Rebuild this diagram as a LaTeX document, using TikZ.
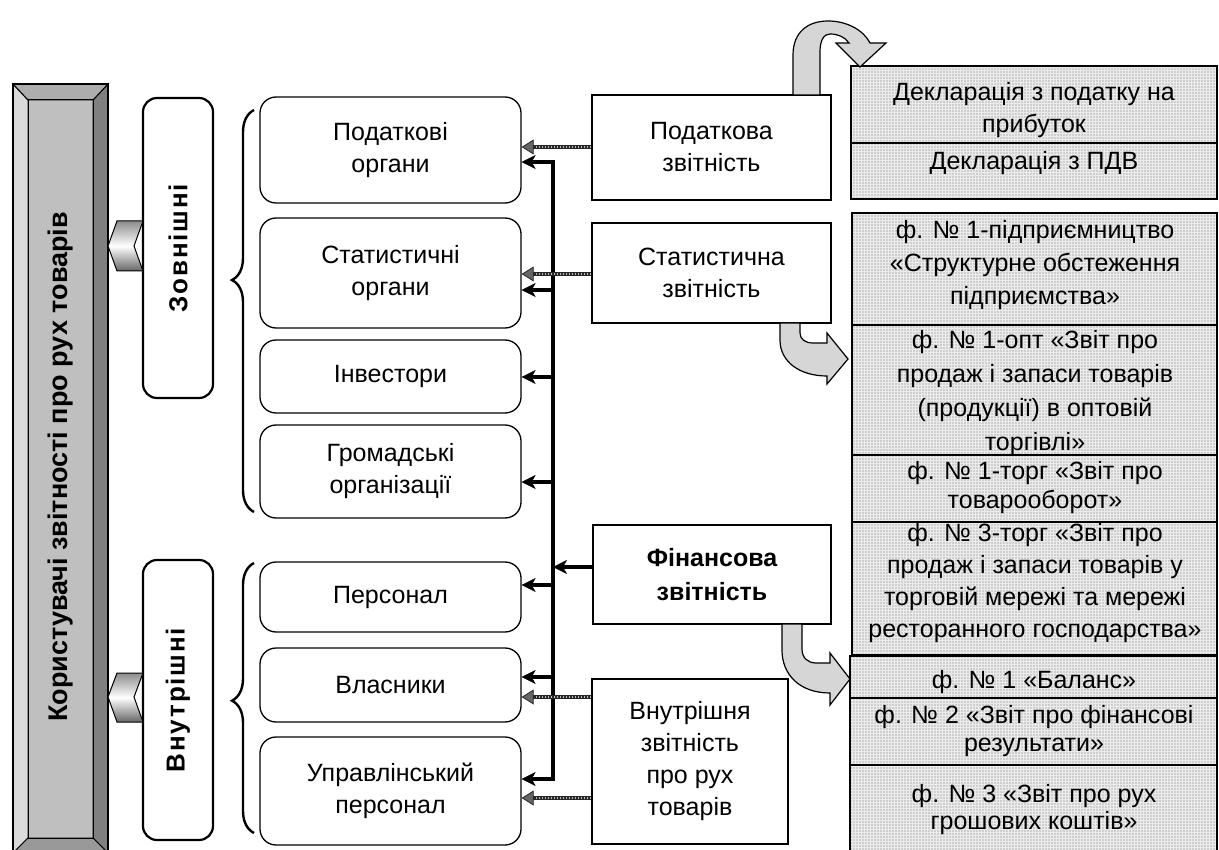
\documentclass[tikz,border=0pt]{standalone}
\usepackage{fontspec}
\setmainfont{Liberation Sans}
\usetikzlibrary{arrows.meta,patterns,decorations.pathreplacing,calc}
\begin{document}
\begin{tikzpicture}[x=1pt,y=-1pt,
  txt/.style={font=\fontsize{25}{32}\selectfont, align=center, inner sep=0pt},
  ubox/.style={draw, line width=1.3pt, rounded corners=16pt, minimum width=261pt, txt},
  rbox/.style={draw, line width=1.3pt, txt},
  catbox/.style={draw, line width=2.2pt, rounded corners=14pt, rotate=90, minimum height=70pt,
     font=\fontsize{26}{30}\selectfont\bfseries\addfontfeature{LetterSpace=7}},
  chev/.style={draw, line width=1pt, top color=black!45, bottom color=black!60, middle color=white},
  bracestyle/.style={draw, line width=2.4pt, decorate},
  busline/.style={line width=3.6pt},
  busarrow/.style={line width=3.6pt, -{Stealth[length=14pt,width=14pt,inset=4pt,line width=0.5pt]}},
  hatchbase/.style={draw=black!85, line width=3.8pt, -{Triangle[length=12pt,width=15pt,fill=black!60,line width=0.8pt]}},
  hatchtop/.style={draw=black!25, line width=1.4pt, dash pattern=on 1.5pt off 1.5pt, shorten >=13pt},
  gridfill/.style={preaction={fill=black!19}, pattern=grid, pattern color=black!8},
  grpline/.style={line width=1.3pt},
  uturn/.style={draw, line width=1.2pt, fill=black!16, line join=miter}
]
\useasboundingbox (0,0) rectangle (1219,850);
\clip (0,0) rectangle (1219,850);

% ---------- left bar ----------
\fill[black!25] (13,84) rectangle (108,870);
\filldraw[fill=black!14, line width=1pt] (13,84) -- (28,100) -- (28,838) -- (13,853) -- cycle;
\filldraw[fill=black!50, line width=1pt] (108,84) -- (93,100) -- (93,838) -- (108,853) -- cycle;
\filldraw[fill=black!32, line width=1pt] (13,84) -- (108,84) -- (93,100) -- (28,100) -- cycle;
\filldraw[fill=black!40, line width=1pt] (28,838) -- (93,838) -- (108,853) -- (13,853) -- cycle;
\draw[line width=1.3pt] (13,84) rectangle (108,870);
\draw[line width=1pt] (28,100) rectangle (93,838);
\node[rotate=90, font=\fontsize{27}{30}\selectfont\bfseries] (users) at (61,467) {Користувачі звітності про рух товарів};

% ---------- category boxes ----------
\node[catbox, minimum width=300pt] (ext) at (178,248) {Зовнішні};
\node[catbox, minimum width=280pt] (int) at (178,700) {Внутрішні};
\path[chev] (143,221) -- (117,221) -- (108,246) -- (117,271) -- (143,271) -- (134,246) -- cycle;
\path[chev] (143,673) -- (117,673) -- (108,697) -- (117,722) -- (143,722) -- (134,697) -- cycle;

% ---------- braces ----------
\draw[bracestyle, decoration={brace, amplitude=22pt, aspect=0.577}] (254,512) -- (254,110);
\draw[bracestyle, decoration={brace, amplitude=22pt, aspect=0.49}] (254,833) -- (254,563);

% ---------- user boxes ----------
\node[ubox, minimum height=106pt] (tax)  at (390.5,150) {Податкові\\органи};
\node[ubox, minimum height=110pt] (stat) at (390.5,273) {Статистичні\\органи};
\node[ubox, minimum height=73pt]  (inv)  at (390.5,376.5) {Інвестори};
\node[ubox, minimum height=93pt]  (pub)  at (390.5,471.5) {Громадські\\організації};
\node[ubox, minimum height=70pt]  (pers) at (390.5,597) {Персонал};
\node[ubox, minimum height=74pt]  (own)  at (390.5,685) {Власники};
\node[ubox, minimum height=108pt] (mgr)  at (390.5,791) {Управлінський\\персонал};

% ---------- report boxes ----------
\node[rbox, minimum width=239pt, minimum height=105pt] (ptax)  at (711.5,147.5) {Податкова\\звітність};
\node[rbox, minimum width=239pt, minimum height=100pt] (pstat) at (711.5,273) {Статистична\\звітність};
\node[rbox, minimum width=238pt, minimum height=99pt, font=\fontsize{25}{34}\selectfont\bfseries] (pfin) at (712,574.5) {Фінансова\\звітність};
\node[rbox, minimum width=196pt, minimum height=165pt] (pint) at (690,761.5) {Внутрішня\\звітність\\про рух\\товарів};

% ---------- bus ----------
\coordinate (btop) at (553,162);
\coordinate (bbot) at (553,779);
\coordinate (bstat) at (553,290);
\coordinate (binv) at (553,377);
\coordinate (bpub) at (553,482);
\coordinate (bpers) at (553,585);
\coordinate (bown) at (553,677);
\draw[busline] ([yshift=1.8pt]btop) -- ([yshift=-1.8pt]bbot);
\draw[busarrow] ([xshift=1.8pt]btop) -- (btop -| tax.east);
\draw[busarrow] (bstat) -- (bstat -| stat.east);
\draw[busarrow] (binv) -- (binv -| inv.east);
\draw[busarrow] (bpub) -- (bpub -| pub.east);
\draw[busarrow] (bpers) -- (bpers -| pers.east);
\draw[busarrow] (bown) -- (bown -| own.east);
\draw[busarrow] ([xshift=1.8pt]bbot) -- (bbot -| mgr.east);
\draw[busarrow] ([yshift=7.5pt]pfin.west) -- ([yshift=7.5pt]pfin.west -| btop);

% ---------- hatched arrows ----------
\coordinate (h1) at ([yshift=0.5pt]ptax.west);
\coordinate (h2) at ([yshift=-1pt]pstat.west);
\coordinate (h3) at ([yshift=64.5pt]pint.west);
\coordinate (h4) at ([yshift=-36.5pt]pint.west);
\foreach \h/\b in {h1/tax, h2/stat, h3/own, h4/mgr}{
  \draw[hatchbase] (\h) -- (\h -| \b.east);
  \draw[hatchtop] (\h) -- (\h -| \b.east);
}

% ---------- right groups ----------
\draw[gridfill, grpline] (851,66) rectangle (1217,199);
\draw[grpline] (851,143) -- (1217,143);
\draw[gridfill, grpline] (852,213) rectangle (1217,655);
\draw[grpline] (852,325) -- (1217,325);
\draw[grpline] (852,455) -- (1217,455);
\draw[grpline] (852,522) -- (1217,522);
\draw[gridfill, grpline] (850,656) rectangle (1217,870);
\draw[grpline] (850,698) -- (1217,698);
\draw[grpline] (850,765) -- (1217,765);

\node[txt] (g1a) at (1034,110) {Декларація з податку на\\прибуток};
\node[txt] (g1b) at (1034,163) {Декларація з ПДВ};
\node[txt, font=\fontsize{25}{33}\selectfont] (g2a) at (1035,265) {ф. № 1-підприємництво\\«Структурне обстеження\\підприємства»};
\node[txt, font=\fontsize{25}{34}\selectfont] (g2b) at (1035,393) {ф. № 1-опт «Звіт про\\продаж і запаси товарів\\(продукції) в оптовій\\торгівлі»};
\node[txt, font=\fontsize{25}{29}\selectfont] (g2c) at (1035,487.5) {ф. № 1-торг «Звіт про\\товарооборот»};
\node[txt] (g2d) at (1035,583) {ф. № 3-торг «Звіт про\\продаж і запаси товарів у\\торговій мережі та мережі\\ресторанного господарства»};
\node[txt] (g3a) at (1034,682) {ф. № 1 «Баланс»};
\node[txt, font=\fontsize{25}{28}\selectfont] (g3b) at (1034,731) {ф. № 2 «Звіт про фінансові\\результати»};
\node[txt, font=\fontsize{25}{27}\selectfont] (g3c) at (1034,810) {ф. № 3 «Звіт про рух\\грошових коштів»};

% ---------- U-turn arrows ----------
\path[uturn] (793,95) -- (793,55) .. controls (793,32) and (808,21) .. (828,21)
  .. controls (848,21) and (864,31) .. (870,43) -- (886,43) -- (860,67) -- (836,43) -- (849,43)
  .. controls (845,37) and (838,34) .. (830,34) .. controls (824,34) and (820,40) .. (820,52) -- (820,95) -- cycle;
\path[uturn] (780,323) -- (780,340) .. controls (780,362) and (800,376) .. (827,376) -- (827,384)
  -- (848,359) -- (827,333) -- (827,343) -- (813,343) .. controls (805,343) and (800,339) .. (800,333) -- (800,323) -- cycle;
\path[uturn] (782,624) -- (782,650) .. controls (782,675) and (800,693) .. (830,693) -- (830,705)
  -- (850,679) -- (830,653) -- (830,663) -- (816,663) .. controls (808,663) and (802,658) .. (802,649) -- (802,624) -- cycle;
\end{tikzpicture}
\end{document}
